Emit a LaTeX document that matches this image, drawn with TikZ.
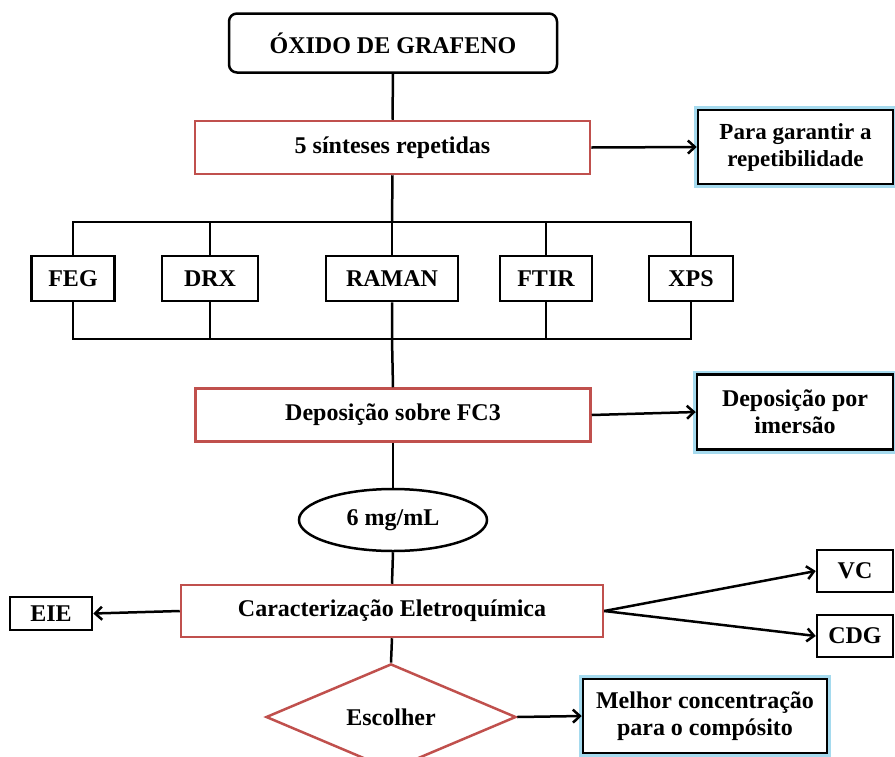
\documentclass[tikz,border=0pt]{standalone}
\usepackage{fontspec}
\setmainfont{Liberation Serif}
\usetikzlibrary{shapes.geometric,arrows.meta}
\definecolor{redb}{RGB}{192,80,77}
\definecolor{glowc}{RGB}{165,218,238}
\begin{document}
\begin{tikzpicture}[x=1pt,y=-1pt,
  base/.style={draw, line width=2.5pt, font=\fontsize{24}{27}\selectfont\bfseries, align=center, inner sep=0pt},
  blackbox/.style={base, rectangle},
  redbox/.style={base, rectangle, draw=redb},
  glowbox/.style={blackbox, fill=white, preaction={draw=glowc, line width=8pt}},
  conn/.style={line width=2.5pt},
  arr/.style={conn, -{Straight Barb[length=7pt,width=13pt]}}
]
\useasboundingbox (0,0) rectangle (895,756);
% main column
\node[blackbox, rounded corners=8pt, minimum width=328pt, minimum height=59pt] (oxido) at (393,43) {ÓXIDO DE GRAFENO};
\node[redbox, minimum width=395pt, minimum height=53pt] (sint) at (392.5,147.5) {5 sínteses repetidas};
\node[glowbox, minimum width=195pt, minimum height=74pt, font=\fontsize{23}{27}\selectfont\bfseries] (para) at (795.5,147) {Para garantir a\\repetibilidade};
% analysis row
\node[blackbox, minimum width=83pt, minimum height=45pt] (feg) at (73,278.5) {FEG};
\node[blackbox, minimum width=96pt, minimum height=45pt] (drx) at (210,278.5) {DRX};
\node[blackbox, minimum width=132pt, minimum height=45pt] (raman) at (392,278.5) {RAMAN};
\node[blackbox, minimum width=92pt, minimum height=45pt] (ftir) at (546,278.5) {FTIR};
\node[blackbox, minimum width=84pt, minimum height=45pt] (xps) at (691,278.5) {XPS};
\coordinate (top) at (392,222);
\coordinate (bot) at (392,339);
% deposition
\node[redbox, minimum width=395pt, minimum height=53pt] (dep) at (393,415) {Deposição sobre FC3};
\node[glowbox, minimum width=196pt, minimum height=75pt] (imer) at (795,412) {Deposição por\\imersão};
\node[base, ellipse, minimum width=188pt, minimum height=62pt] (conc) at (393,520) {6 mg/mL};
\node[redbox, minimum width=422pt, minimum height=52pt] (carac) at (392,611) {Caracterização Eletroquímica};
\node[blackbox, minimum width=82pt, minimum height=33pt] (eie) at (51,613.5) {EIE};
\node[blackbox, minimum width=76pt, minimum height=42pt] (vc) at (855,571) {VC};
\node[blackbox, minimum width=76pt, minimum height=42pt] (cdg) at (855,636) {CDG};
\node[base, diamond, draw=redb, minimum width=250pt, minimum height=84pt] (esc) at (391,717) {Escolher};
\node[glowbox, minimum width=244pt, minimum height=74pt] (melhor) at (705,716) {Melhor concentração\\para o compósito};
% connectors
\draw[conn] (oxido.south) -- (sint.north);
\draw[arr] (sint.east) -- (para.west);
\draw[conn] (sint.south) -- (top);
\draw[conn] (feg.north) |- (xps.north |- top) -- (xps.north);
\draw[conn] (drx.north) -- (drx.north |- top);
\draw[conn] (top) -- (raman.north);
\draw[conn] (ftir.north) -- (ftir.north |- top);
\draw[conn] (feg.south) |- (xps.south |- bot) -- (xps.south);
\draw[conn] (drx.south) -- (drx.south |- bot);
\draw[conn] (ftir.south) -- (ftir.south |- bot);
\draw[conn] (raman.south) -- (bot) -- (dep.north);
\draw[arr] (dep.east) -- (imer.west);
\draw[conn] (dep.south) -- (conc.north);
\draw[conn] (conc.south) -- (carac.north);
\draw[arr] (carac.west) -- (eie.east);
\draw[arr] (carac.east) -- (vc.west);
\draw[arr] (carac.east) -- (cdg.west);
\draw[conn] (carac.south) -- (esc.north);
\draw[arr] (esc.east) -- (melhor.west);
\end{tikzpicture}
\end{document}
